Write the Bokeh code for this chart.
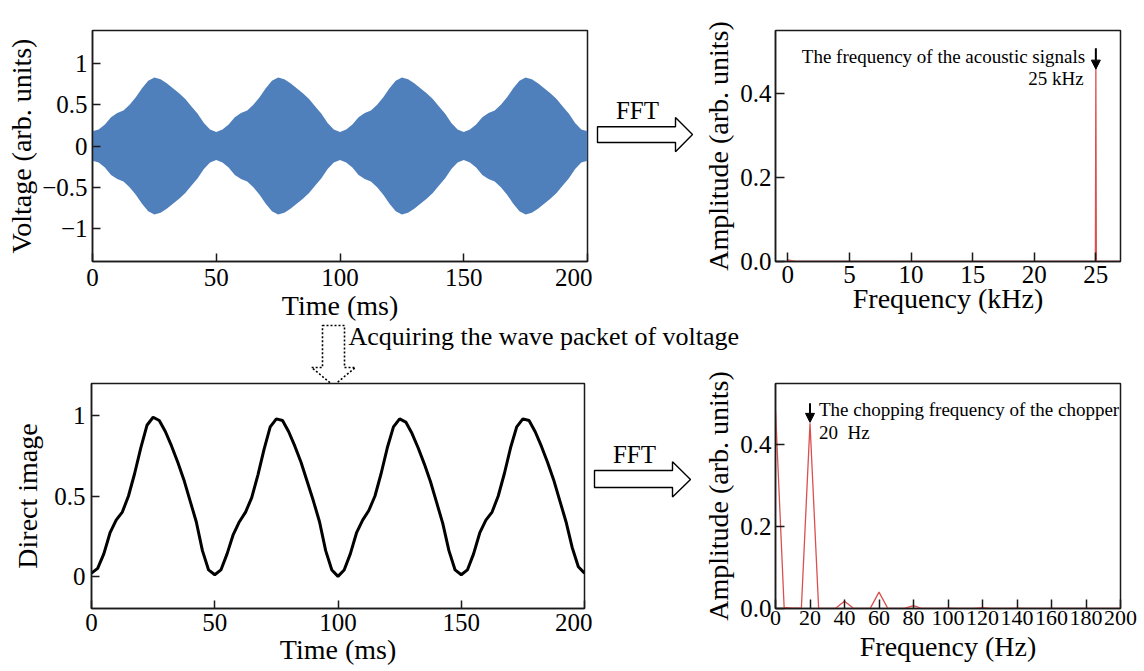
from bokeh.plotting import figure
from bokeh.layouts import column, row
from bokeh.models import Range1d, FixedTicker, Arrow, NormalHead
from bokeh.core.properties import value
from bokeh.embed import file_html
from bokeh.resources import INLINE

SERIF = "Liberation Serif"

# ---------------- data ----------------
time_ms = [0.0, 2.5, 5.0, 7.5, 10.0, 12.5, 15.0, 17.5, 20.0, 22.5, 25.0, 27.5, 30.0, 32.5, 35.0, 37.5,
           40.0, 42.5, 45.0, 47.5, 50.0, 52.5, 55.0, 57.5, 60.0, 62.5, 65.0, 67.5, 70.0, 72.5, 75.0,
           77.5, 80.0, 82.5, 85.0, 87.5, 90.0, 92.5, 95.0, 97.5, 100.0, 102.5, 105.0, 107.5, 110.0,
           112.5, 115.0, 117.5, 120.0, 122.5, 125.0, 127.5, 130.0, 132.5, 135.0, 137.5, 140.0, 142.5,
           145.0, 147.5, 150.0, 152.5, 155.0, 157.5, 160.0, 162.5, 165.0, 167.5, 170.0, 172.5, 175.0,
           177.5, 180.0, 182.5, 185.0, 187.5, 190.0, 192.5, 195.0, 197.5, 200.0]

# envelope of the 25 kHz voltage signal (upper edge; lower edge is its mirror)
voltage_envelope = [0.18, 0.20, 0.26, 0.35, 0.40, 0.43, 0.50, 0.59, 0.70, 0.79, 0.83, 0.81, 0.76, 0.70, 0.64, 0.57, 0.48, 0.39, 0.28, 0.20, 0.17,
                    0.20, 0.26, 0.35, 0.40, 0.43, 0.50, 0.59, 0.70, 0.79, 0.83, 0.81, 0.76, 0.70, 0.64, 0.57, 0.48, 0.39, 0.28, 0.20, 0.17,
                    0.20, 0.26, 0.35, 0.40, 0.43, 0.50, 0.59, 0.70, 0.79, 0.83, 0.81, 0.76, 0.70, 0.64, 0.57, 0.48, 0.39, 0.28, 0.20, 0.17,
                    0.20, 0.26, 0.35, 0.40, 0.43, 0.50, 0.59, 0.70, 0.79, 0.83, 0.81, 0.76, 0.70, 0.64, 0.57, 0.48, 0.39, 0.28, 0.20, 0.18]
voltage_lower = [-v for v in voltage_envelope]

direct_image = [0.02, 0.05, 0.14, 0.27, 0.35, 0.40, 0.50, 0.64, 0.80, 0.94, 0.99, 0.97, 0.90, 0.81, 0.71, 0.60, 0.47, 0.34, 0.16, 0.04, 0.01,
                0.04, 0.14, 0.26, 0.34, 0.40, 0.49, 0.63, 0.79, 0.93, 0.98, 0.97, 0.90, 0.81, 0.71, 0.59, 0.47, 0.34, 0.16, 0.04, 0.00,
                0.04, 0.14, 0.27, 0.35, 0.41, 0.50, 0.64, 0.80, 0.93, 0.98, 0.96, 0.89, 0.80, 0.70, 0.59, 0.46, 0.33, 0.16, 0.04, 0.01,
                0.04, 0.14, 0.27, 0.35, 0.40, 0.50, 0.64, 0.80, 0.93, 0.98, 0.97, 0.90, 0.81, 0.71, 0.60, 0.47, 0.34, 0.18, 0.06, 0.02]

fft_acoustic_khz = [0.0, 0.3, 0.6, 24.96, 25.0, 25.04, 27.0]
fft_acoustic_amp = [0.004, 0.002, 0.0, 0.0, 0.462, 0.0, 0.0]

fft_chopper_hz = [0, 5, 10, 15, 20, 25, 30, 35, 40, 45, 50, 55, 60, 65, 70, 75, 80, 85, 90, 95, 100,
                  105, 110, 115, 120, 125, 130, 135, 140, 145, 150, 155, 160, 165, 170, 175, 180, 185, 190, 195, 200]
fft_chopper_amp = [0.485, 0.003, 0.001, 0.001, 0.453, 0.001, 0.0, 0.001, 0.018, 0.001, 0.0, 0.001, 0.040, 0.001, 0.0,
                   0.001, 0.007, 0.0, 0.0, 0.0, 0.001, 0.0, 0.0, 0.0, 0.002, 0.0, 0.0, 0.0, 0.001, 0.0, 0.0, 0.0,
                   0.0, 0.0, 0.0, 0.0, 0.0, 0.0, 0.0, 0.0, 0.0]

time_ticks = [0, 50, 100, 150, 200]
time_labels = ["0", "50", "100", "150", "200"]
volt_ticks = [-1, -0.5, 0, 0.5, 1]
volt_labels = ["\u22121", "\u22120.5", "0", "0.5", "1"]
direct_ticks = [0, 0.5, 1]
direct_labels = ["0", "0.5", "1"]
amp_ticks = [0, 0.2, 0.4]
amp_labels = ["0.0", "0.2", "0.4"]
khz_ticks = [0, 5, 10, 15, 20, 25]
khz_labels = ["0", "5", "10", "15", "20", "25"]
hz_ticks = [0, 20, 40, 60, 80, 100, 120, 140, 160, 180, 200]
hz_labels = ["0", "20", "40", "60", "80", "100", "120", "140", "160", "180", "200"]

BLUE = "#4f80bc"
RED = "#d9504f"


def style(p, xt, xl, yt, yl, xlabel, ylabel, tick_in=8, xfs="25px",
          x_std=1, x_lab_std=0, y_std=5, y_lab_std=2):
    p.grid.visible = False
    p.outline_line_color = "#1a1a1a"
    p.outline_line_width = 1.5
    p.background_fill_color = "white"
    p.border_fill_alpha = 0
    p.xaxis.ticker = FixedTicker(ticks=xt)
    p.xaxis.major_label_overrides = {t: l for t, l in zip(xt, xl)}
    p.yaxis.ticker = FixedTicker(ticks=yt)
    p.yaxis.major_label_overrides = {t: l for t, l in zip(yt, yl)}
    p.xaxis.axis_label = xlabel
    p.yaxis.axis_label = ylabel
    for ax in (p.xaxis, p.yaxis):
        ax.axis_line_color = "#1a1a1a"
        ax.axis_line_width = 1.5
        ax.major_tick_line_color = "#1a1a1a"
        ax.major_tick_line_width = 1.5
        ax.major_tick_in = tick_in
        ax.major_tick_out = 0
        ax.minor_tick_line_color = None
        ax.major_label_text_font = SERIF
        ax.major_label_text_color = "black"
        ax.axis_label_text_font = SERIF
        ax.axis_label_text_font_style = "normal"
        ax.axis_label_text_font_size = "28px"
        ax.axis_label_text_color = "black"
    p.yaxis.major_label_text_font_size = "25px"
    p.xaxis.major_label_text_font_size = xfs
    p.xaxis.major_label_standoff = x_std
    p.xaxis.axis_label_standoff = x_lab_std
    p.yaxis.major_label_standoff = y_std
    p.yaxis.axis_label_standoff = y_lab_std


def canvas(w, h, x0, x1, ytop, ybot, **kw):
    c = figure(width=w, height=h, x_range=Range1d(x0, x1), y_range=Range1d(ybot, ytop),
               x_axis_location=None, y_axis_location=None, toolbar_location=None,
               output_backend="svg", min_border=0, outline_line_color=None, **kw)
    c.grid.visible = False
    c.background_fill_alpha = 0
    c.border_fill_alpha = 0
    return c


# ---------------- top left: voltage ----------------
p1 = figure(width=592, height=324, x_range=Range1d(0, 200), y_range=Range1d(-1.4, 1.4),
            toolbar_location=None, output_backend="svg",
            min_border_left=92, min_border_right=5, min_border_top=30, min_border_bottom=62)
p1.varea(x=time_ms, y1=voltage_lower, y2=voltage_envelope, fill_color=BLUE)
style(p1, time_ticks, time_labels, volt_ticks, volt_labels, "Time (ms)", "Voltage (arb. units)",
      x_std=7, x_lab_std=1, y_std=5, y_lab_std=2)

# ---------------- top middle: FFT arrow ----------------
mA = canvas(108, 324, 592, 700, 0, 324)
mA.patch(x=[597, 675, 675, 692, 675, 675, 597], y=[135, 135, 122, 146, 170, 157, 157],
         fill_color="white", line_color="black", line_width=1.4)
mA.text(x=[637], y=[112], text=["FFT"], text_font=value(SERIF), text_font_size="25px",
        text_align="center", text_baseline="middle", text_color="black")

# ---------------- top right: FFT of voltage ----------------
p2 = figure(width=444, height=324, x_range=Range1d(-1, 27), y_range=Range1d(0, 0.55),
            toolbar_location=None, output_backend="svg",
            min_border_left=73, min_border_right=24, min_border_top=25, min_border_bottom=63)
p2.line(fft_acoustic_khz, fft_acoustic_amp, line_color=RED, line_width=1.3)
style(p2, khz_ticks, khz_labels, amp_ticks, amp_labels, "Frequency (kHz)", "Amplitude (arb. units)",
      tick_in=9, x_std=4, x_lab_std=-3, y_std=4, y_lab_std=3)
p2.text(x=[24.13], y=[0.488], text=["The frequency of the acoustic signals"], text_font=value(SERIF),
        text_font_size="19px", text_align="right", text_baseline="middle", text_color="black")
p2.text(x=[24.01], y=[0.435], text=["25 kHz"], text_font=value(SERIF),
        text_font_size="19px", text_align="right", text_baseline="middle", text_color="black")
p2.add_layout(Arrow(end=NormalHead(size=9, fill_color="black", line_color="black"),
                    x_start=25, y_start=0.508, x_end=25, y_end=0.458,
                    line_color="black", line_width=2))

# ---------------- band: dotted arrow and caption ----------------
band = canvas(1144, 66, 0, 1144, 320, 386, margin=(-4, 0, 0, 0))
arrow_px = [322, 344, 344, 355, 333, 311, 322, 322]
arrow_py = [325, 325, 367, 367, 385, 367, 367, 325]
band.patch(x=arrow_px, y=arrow_py, fill_alpha=0, line_color="black", line_width=1.6, line_dash="2 2")
band.text(x=[348], y=[336], text=["Acquiring the wave packet of voltage"], text_font=value(SERIF),
          text_font_size="26px", text_align="left", text_baseline="middle", text_color="black")

# ---------------- bottom left: direct image ----------------
p3 = figure(width=592, height=305, x_range=Range1d(0, 200), y_range=Range1d(-0.2, 1.2),
            toolbar_location=None, output_backend="svg",
            min_border_left=91, min_border_right=8, min_border_top=17, min_border_bottom=63)
p3.line(time_ms, direct_image, line_color="black", line_width=3)
style(p3, time_ticks, time_labels, direct_ticks, direct_labels, "Time (ms)", "Direct image",
      x_std=5, x_lab_std=0, y_std=6, y_lab_std=8)

# ---------------- bottom middle: FFT arrow ----------------
mB = canvas(108, 305, 592, 700, 366, 671)
mB.patch(x=[594, 672, 672, 690, 672, 672, 594], y=[484, 484, 472, 496, 520, 507, 507],
         fill_color="white", line_color="black", line_width=1.4)
mB.text(x=[634], y=[462], text=["FFT"], text_font=value(SERIF), text_font_size="25px",
        text_align="center", text_baseline="middle", text_color="black")

# ---------------- bottom right: FFT of direct image ----------------
p4 = figure(width=444, height=305, x_range=Range1d(0, 200), y_range=Range1d(0, 0.55),
            toolbar_location=None, output_backend="svg",
            min_border_left=73, min_border_right=24, min_border_top=10, min_border_bottom=62)
p4.line(fft_chopper_hz, fft_chopper_amp, line_color=RED, line_width=1.3)
style(p4, hz_ticks, hz_labels, amp_ticks, amp_labels, "Frequency (Hz)", "Amplitude (arb. units)",
      tick_in=9, xfs="22px", x_std=2, x_lab_std=3, y_std=4, y_lab_std=3)
p4.text(x=[25.2], y=[0.486], text=["The chopping frequency of the chopper"], text_font=value(SERIF),
        text_font_size="19px", text_align="left", text_baseline="middle", text_color="black")
p4.text(x=[25.2], y=[0.430], text=["20\u00a0 Hz"], text_font=value(SERIF),
        text_font_size="19px", text_align="left", text_baseline="middle", text_color="black")
p4.add_layout(Arrow(end=NormalHead(size=9, fill_color="black", line_color="black"),
                    x_start=20, y_start=0.502, x_end=20, y_end=0.455,
                    line_color="black", line_width=2))

rowB = row(p3, mB, p4, margin=(-20, 0, 0, 0))
layout = column(row(p1, mA, p2), band, rowB)

with open("out.html", "w") as f:
    f.write(file_html(layout, INLINE))
